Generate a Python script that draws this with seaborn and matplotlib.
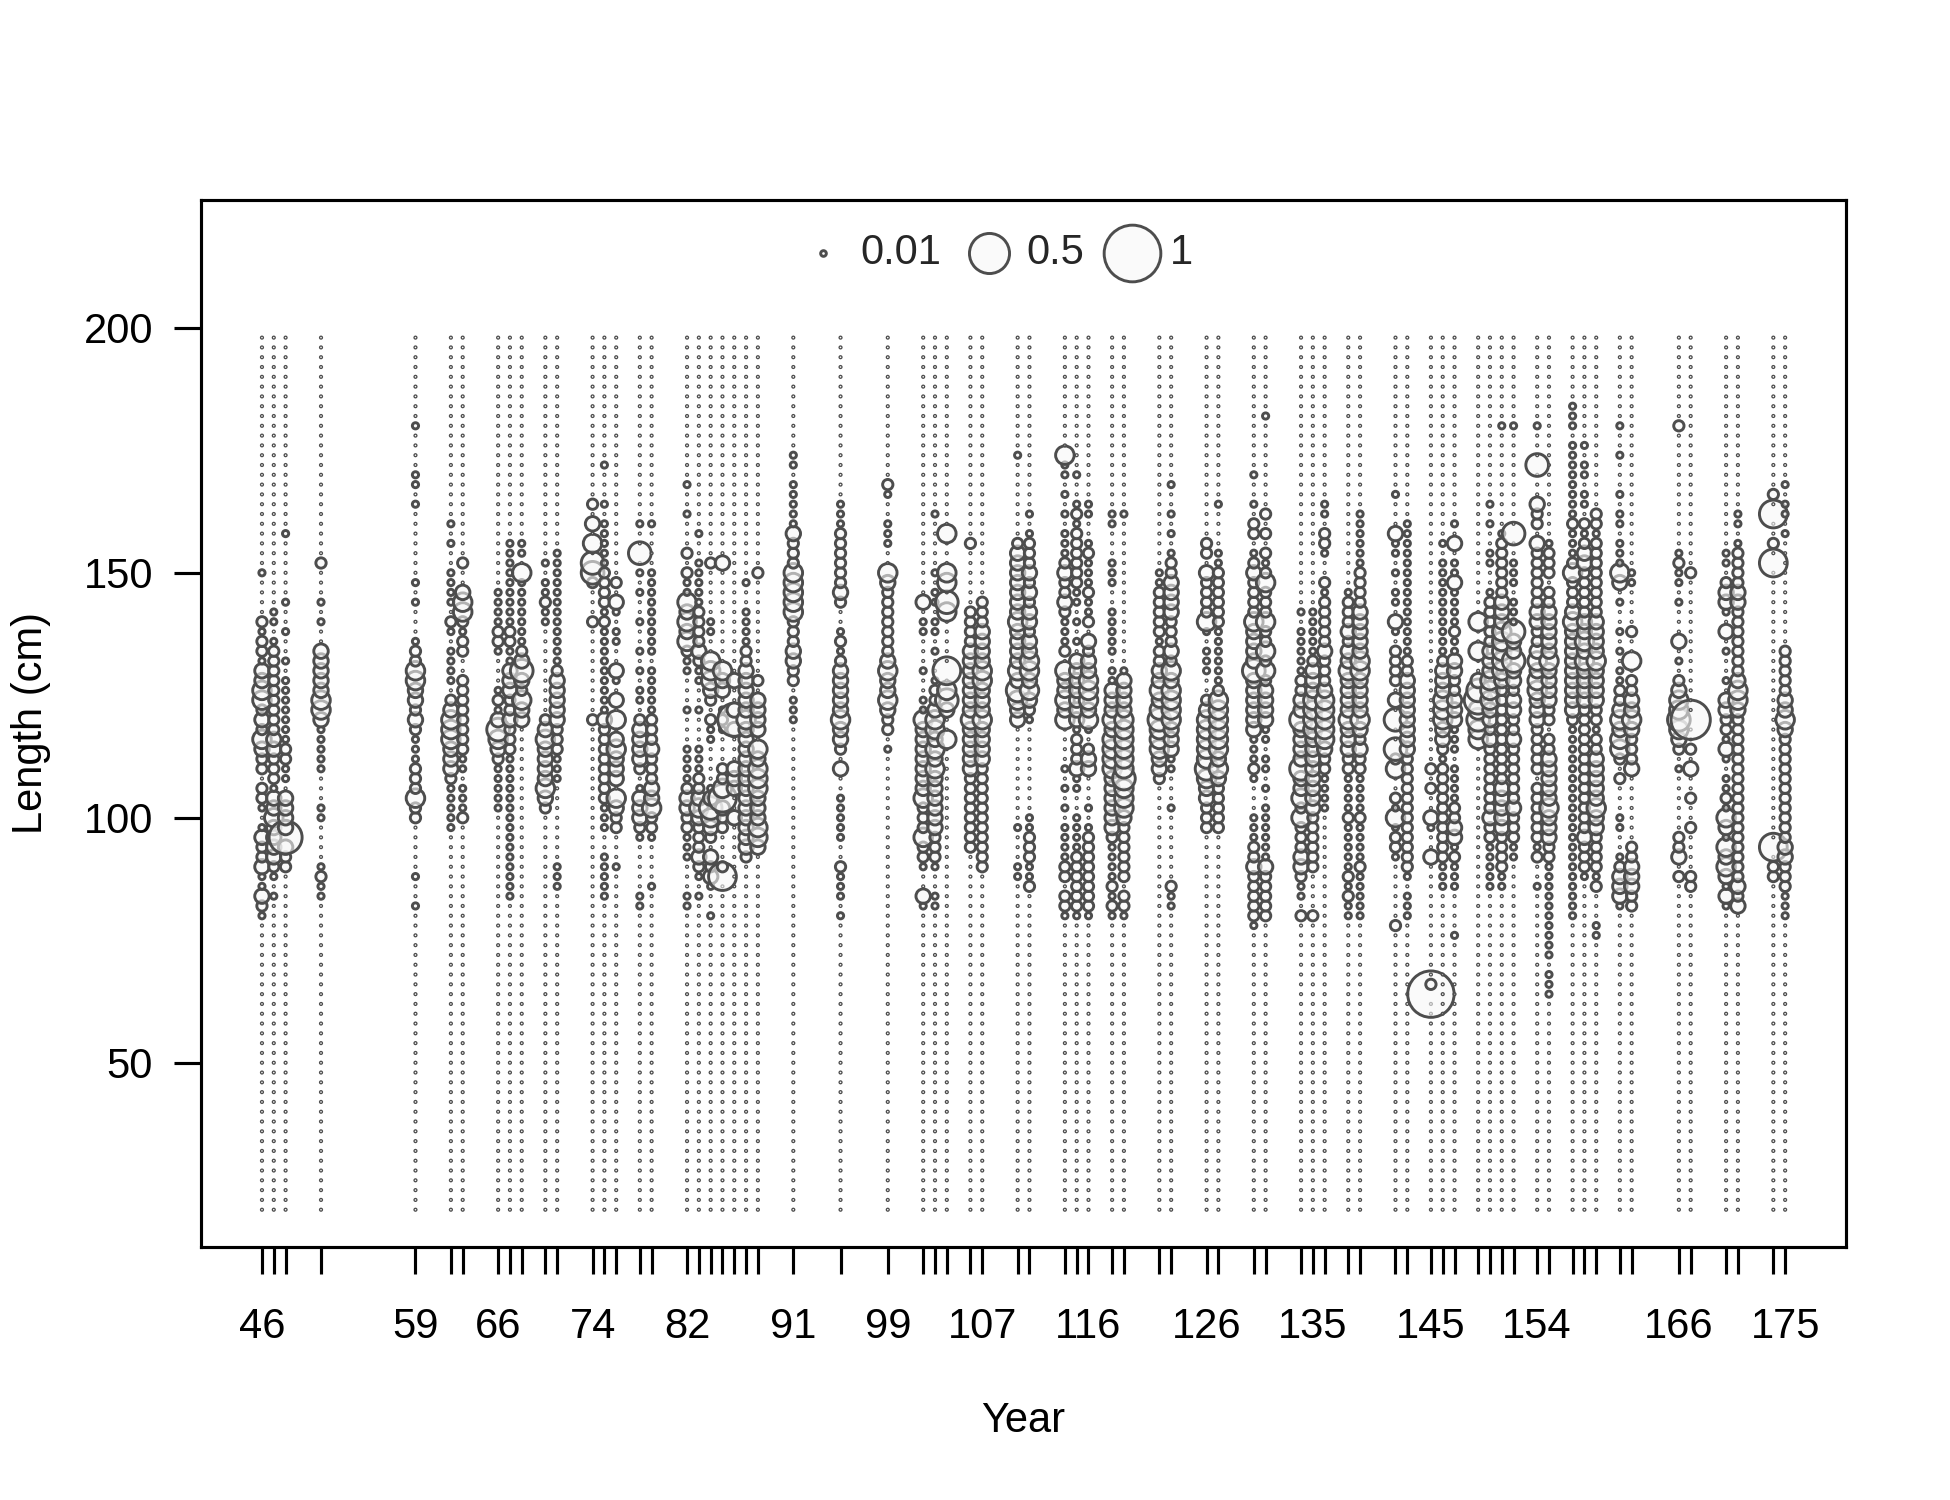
# -------------- IMPORTATIONS -------------------#
import numpy as np
import pandas as pd
import seaborn as sns
import matplotlib.pyplot as plt

# -------------- DONNEES -------------------#
years = [46, 47, 48, 51, 59, 62, 63, 66, 67, 68, 70, 71, 74, 75, 76, 78, 79,
         82, 83, 84, 85, 86, 87, 88, 91, 95, 99, 102, 103, 104, 106, 107,
         110, 111, 114, 115, 116, 118, 119, 122, 123, 126, 127, 130, 131,
         134, 135, 136, 138, 139, 142, 143, 145, 146, 147, 149, 150, 151,
         152, 154, 155, 157, 158, 159, 161, 162, 166, 167, 170, 171, 174, 175]
label_years = [46, 59, 66, 74, 82, 91, 99, 107, 116, 126, 135, 145, 154, 166, 175]
length_bins = list(range(20, 200, 2))

size_codes = {'.': 0.0005, '1': 0.012, '2': 0.033, '3': 0.065, '4': 0.107,
              '5': 0.16, '6': 0.24, '7': 0.34, '8': 0.48, '9': 0.67, 'X': 1.0}

# "longueur de depart:codes" en descendant de 2 cm, '.' partout ailleurs
year_codes = [
    "150:1.... 21221 33442 32432 2.221 .1322 31132 1",
    "142:11.12 22222 22233 22213 34333 321.1",
    "158:1.... ..1.. 1..1. 11111 11221 1.333 37322",
    "152:2...1 .1..3 33334 43111 11... 11... .1211",
    "180:1.... 11.1. ..... .1.1. ..122 44332 32111 22242 2.... .1..1",
    "160:1.1.. 1111. 21.11 11.23 44433 32111 11",
    "152:2..34 42122 ..222 22222 11.11 12",
    "154:....1 11122 1...1 21354 32111 11",
    "156:11111 11112 21133 32232 22111 11111 11111 11",
    "156:11.41 11111 12353 2433",
    "152:1.112 11... ..... .2343 33343 2",
    "154:11111 11111 11233 33322 2111. ..... ..111",
    "164:2.3.4 .552. ..2.. ..... ..2",
    "172:1...1 .1111 12222 12111 11111 13222 22222 111.. 11111",
    "148:2.31. 11..3 1.3.4 .3433 3.432 2...1",
    "160:1..5. 1.1.. 1..1. 1.11. 23333 2.133 321.. ...11",
    "160:1.... 11111 1111. 11111 22232 22334 221.. ..1",
    "168:1..1. ..2.2 11434 34211 ...1. ..111 12332 2111. ..11",
    "158:1..11 11122 22321 1..1. ..111 22343 22232 1.1",
    "152:2.... .11.. 44432 .211. ...13 5432. 3231. .1",
    "152:3.... ..... .433. 121.. .2246 322.. .26.",
    "128:3..37 3...3 33..3",
    "148:1..11 11223 33334 33333 33333 3332.",
    "150:2.... ..... .2.33 33.43 44433 3443",
    "174:11.11 11132 22444 44222 3322. 111",
    "164:11122 22223 2..12 12333 33433 2.3.. 11111 ..211 1.1",
    "168:21..1 11..4 32222 22234 33432 2.1",
    "144:3.11. ..1.. 11433 33333 42224 221.. 31",
    "162:1.... .1.11 .11.1 ..122 34434 34333 33322 21..1 1",
    "158:4...4 4.54. ....6 .453. .4",
    "156:2.... ..222 23333 33343 33332 22222 22",
    "144:22233 33443 33433 33222 22222 222",
    "174:1.... ....2 33333 33433 33435 433.. ..... ...1. ..11",
    "164:.1.12 22323 23323 34434 321.. ..... ..112 22112",
    "174:411.1 .1.11 12322 32111 2.433 434.. ..1.1 .1.11 1122. 221",
    "170:1..12 12222 2211. 1.1.3 33333 31222 311.. 11112 22222 1",
    "164:11..1 21112 112.3 23344 4341. 233.. .1.12 22222 221",
    "162:11... 111.. 11111 .1133 34344 44333 33321 11121 21",
    "162:1|130:13333 44444 45444 32222 22.22 1",
    "150:11222 22122 33434 54443 32",
    "168:1..1. 1.122 33332 22324 34444 33311 ...1. ..... .211",
    "156:22.32 22241 .111. .2344 44454 33222",
    "164:1.... 11222 22211 11112 44444 43432 2222",
    "170:1..1. 22.12 32222 43333 53333 33111 21... 11122 32222 21",
    "182:1|162:2.2.2 12422 24224 24233 3311. 11.1. 11111 13222 22",
    "146:..1.1 11112 23353 33353 34242 22332 11.2",
    "142:11111 23334 44433 33333 32222 22... .2",
    "164:11.22 1..21 22222 32223 44444 32211 11",
    "146:12223 23343 33343 33221 11121 11112 1211",
    "162:11111 12222 33333 44333 34323 22111 12111 12111 11",
    "166:1...3 11.1. 11.31 .2222 .3.5. .524. .2141 221.. ....2",
    "162:.1111 11111 11111 22333 33333 22222 22222 221.1 11",
    "110:2.2.. 31..3|66:29",
    "156:1.111 11111 11233 34443 32122 22222 22211 1",
    "160:1.3.1 13111 12113 32233 3111. 11112 23312 111.. ..1",
    "140:4..4. .3564 544",
    "164:1.1.. 11..1 22222 33344 43323 22222 22322 11111",
    "180:1|158:12222 22333 44444 32222 22222 23333 32222 11",
    "180:1|158:5..11 1.111 53353 32332 23222 22232 2211",
    "180:1|172:5...3 22.32 22222 33223 43443 33222 22.22 22221 2..1",
    "156:1222. 22333 33433 3322. 22333 33433 32211 11111 111.1 11",
    "184:111.1 11111 11211 12422 23433 33333 33211 11111 11111 11111 111",
    "176:1.11. 11.21 23322 22233 43433 33222 22222 22222 32221",
    "162:22122 22222 23333 43333 22122 33333 43322 2212. ..11",
    "180:1..1. ..1.1 1.111 43.1. .1.1. 11223 43442 .2... 11..1 23331",
    "156:...11 ....2 ..4.2 23343 2223. ..... .2233 322",
    "180:2|154:1211. 1...3 .1.23 44543 2.1.. ....2 23.2",
    "150:2.... ..... ..... 8..2. 3..2. .2... .22",
    "154:11.23 31.3. 1..1. 33221 31.11 21431 43431 31",
    "162:11.12 22233 22222 22344 32222 22222 22222 22232 3",
    "166:2.6.. 2.6|94:6.22",
    "168:1.11. 1|134:22222 33432 22222 22222 33222 111",
]
legend_values = [0.01, 0.5, 1]

# -------------- TABLEAU -------------------#
rows = []
for yr, spec in zip(years, year_codes):
    col = {L: '.' for L in length_bins}
    for run in spec.split('|'):
        top, codes = run.split(':')
        codes = codes.replace(' ', '')
        for i, ch in enumerate(codes):
            col[int(top) - 2 * i] = ch
    for L in length_bins:
        rows.append((yr, L, size_codes[col[L]]))
df = pd.DataFrame(rows, columns=['year', 'length', 'prop'])

# -------------- FIGURE -------------------#
sns.set_theme(style='white')
plt.rcParams['font.family'] = ['Liberation Sans', 'DejaVu Sans']

face = (0.97, 0.97, 0.97, 0.6)
edge = (0.3, 0.3, 0.3, 1.0)
smax = 185
fs = 10

fig = plt.figure(figsize=(6.5, 5), dpi=300)
ax = fig.add_axes([0.1031, 0.1687, 0.8436, 0.698])

sns.scatterplot(data=df, x='year', y='length', size='prop', sizes=(0, smax),
                size_norm=(0, 1), legend=False, marker='o', facecolor=face,
                edgecolor=edge, linewidth=0.7, ax=ax)

ax.set_xlim(40.84, 180.16)
ax.set_ylim(12.4, 226.1)

ax.set_xticks(years)
ax.set_xticklabels([str(y) if y in label_years else '' for y in years])
ax.set_yticks([50, 100, 150, 200])
ax.set_yticklabels(['50', '100', '150', '200'])
ax.tick_params(axis='both', which='both', direction='out', length=6.5, width=0.75,
               color='black', labelsize=fs, labelcolor='black', bottom=True, left=True)
ax.tick_params(axis='x', pad=8)
ax.tick_params(axis='y', pad=5)

for s in ax.spines.values():
    s.set_color('black')
    s.set_linewidth(0.75)

ax.set_xlabel('Year', fontsize=fs, color='black')
ax.set_ylabel('Length (cm)', fontsize=fs, color='black')
ax.xaxis.set_label_coords(0.5, -0.166)
ax.xaxis.label.set_va('center')
ax.yaxis.set_label_coords(-0.1033, 0.5)
ax.yaxis.label.set_va('center')

handles = [ax.scatter([], [], s=smax * v, marker='o', facecolor=face,
                      edgecolor=edge, linewidth=0.7) for v in legend_values]
ax.legend(handles, ['0.01', '0.5', '1'], loc='center', bbox_to_anchor=(0.481, 0.949),
          ncol=3, frameon=False, fontsize=fs, handlelength=1.5, handletextpad=0.15,
          columnspacing=0.4, scatterpoints=1, borderpad=0)

fig.savefig('out.png', dpi=300)
